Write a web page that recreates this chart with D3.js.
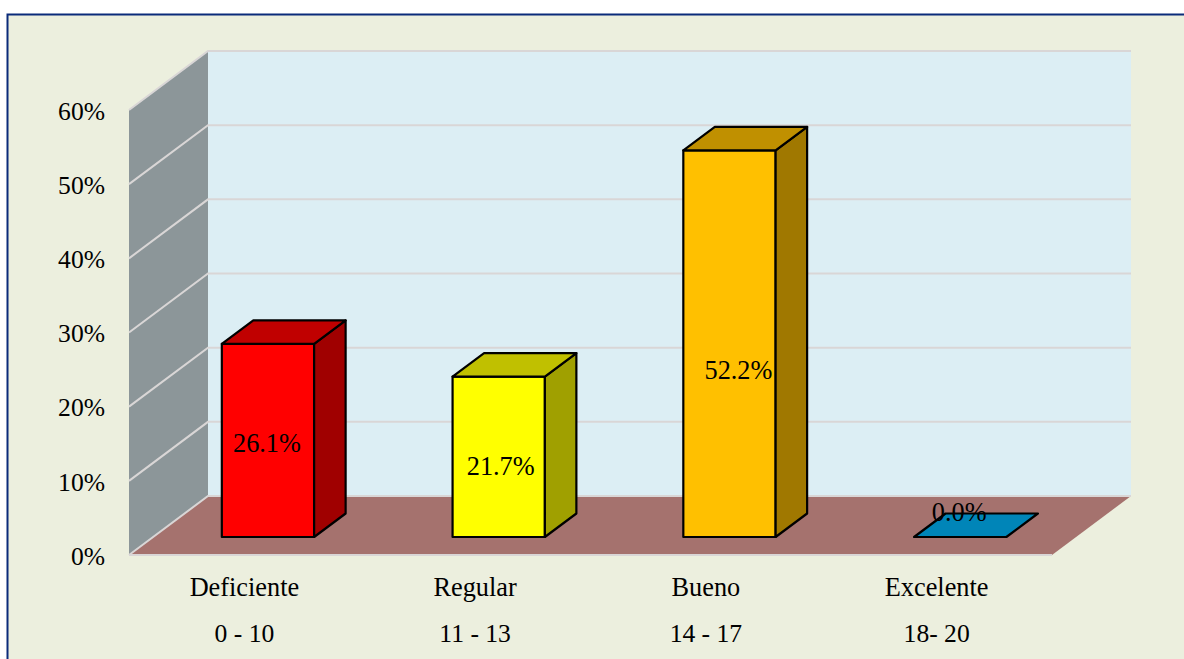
<!DOCTYPE html>
<html>
<head>
<meta charset="utf-8">
<script src="https://cdn.jsdelivr.net/npm/d3@7"></script>
<style>
  html, body { margin: 0; background: #fff; overflow: hidden; }
  text { font-family: "Liberation Serif", "Times New Roman", serif; fill: #000; }
</style>
</head>
<body>
<div id="chart"></div>
<script>
const categories = ['Deficiente', 'Regular', 'Bueno', 'Excelente']
const ranges = ['0 - 10', '11 - 13', '14 - 17', '18- 20']
const values = [26.1, 21.7, 52.2, 0]
const valueLabels = ['26.1%', '21.7%', '52.2%', '0.0%']
const yTicks = [0, 10, 20, 30, 40, 50, 60]
const frontColors = ['#ff0000', '#ffff00', '#ffc000', '#0085b8']
const topColors = ['#c00000', '#c0c000', '#c09000', '#0085b8']
const sideColors = ['#a00000', '#a0a000', '#a07800', '#006488']

let width = 1184,
  height = 659

// floor front edge runs 129-1052, value 0 sits on y 555, 60% on y 110
let x = d3.scaleBand().domain(categories).range([129, 1052]).paddingInner(0).paddingOuter(0)
let y = d3.scaleLinear().domain([0, 60]).range([555, 110])

// wall depth, the whole box and then one bar
let depth = { x: 79, y: -59 }
let barDepth = { x: 31.5, y: -23.5 }
let barInset = { x: 23.6, y: -18 }
let barWidth = x.bandwidth() * 0.4

// labels were placed by hand in the original, they do not sit centred on the bars
let labelShift = [[-1, 12], [2, 18], [9, 35], [-1, -16]]
let fontSize = 26.3
let tickFontSize = 25.6

let svg = d3.select('#chart')
  .append('svg')
  .attr('width', width)
  .attr('height', height)
  .style('display', 'block')

let pts = arr => arr.map(p => p.join(',')).join(' ')

svg.append('rect')
  .attr('x', 7.5)
  .attr('y', 14.5)
  .attr('width', width)
  .attr('height', height)
  .attr('fill', '#ecefde')
  .attr('stroke', '#0a2b7a')
  .attr('stroke-width', 2)

let x0 = x.range()[0],
  x1 = x.range()[1],
  y0 = y(0),
  yMax = y(60)

// back wall
svg.append('rect')
  .attr('x', x0 + depth.x)
  .attr('y', yMax + depth.y)
  .attr('width', x1 - x0)
  .attr('height', y0 - yMax)
  .attr('fill', '#dceef4')

// side wall
svg.append('polygon')
  .attr('points', pts([[x0, y0], [x0, yMax], [x0 + depth.x, yMax + depth.y], [x0 + depth.x, y0 + depth.y]]))
  .attr('fill', '#8c9699')

// floor
svg.append('polygon')
  .attr('points', pts([[x0, y0], [x1, y0], [x1 + depth.x, y0 + depth.y], [x0 + depth.x, y0 + depth.y]]))
  .attr('fill', '#a5726e')

// grid lines go along the side wall and then the back wall
svg.selectAll('.grid')
  .data(yTicks)
  .enter()
  .append('polyline')
  .attr('class', 'grid')
  .attr('points', d => pts([[x0, y(d)], [x0 + depth.x, y(d) + depth.y], [x1 + depth.x, y(d) + depth.y]]))
  .attr('fill', 'none')
  .attr('stroke', '#d9d6d6')
  .attr('stroke-width', 2)

svg.append('line')
  .attr('x1', x0)
  .attr('y1', y0)
  .attr('x2', x1)
  .attr('y2', y0)
  .attr('stroke', '#d9d6d6')
  .attr('stroke-width', 2)

let yAxis = svg.append('g')
  .attr('transform', 'translate(116,1)')
  .call(d3.axisLeft(y).tickValues(yTicks).tickSize(0).tickPadding(11).tickFormat(d => d + '%'))
yAxis.select('.domain').remove()
yAxis.selectAll('text')
  .attr('font-size', tickFontSize)
  .style('font-family', '"Liberation Serif", serif')

let bottomAxis = d3.axisBottom(x).tickSize(0).tickPadding(0)

let xAxis = svg.append('g')
  .attr('transform', 'translate(0,' + y0 + ')')
  .call(bottomAxis)
xAxis.select('.domain').remove()
xAxis.selectAll('text')
  .attr('font-size', fontSize)
  .attr('dy', null)
  .attr('y', 41)
  .style('font-family', '"Liberation Serif", serif')

let rangeAxis = svg.append('g')
  .attr('transform', 'translate(0,' + y0 + ')')
  .call(bottomAxis.tickFormat((d, i) => ranges[i]))
rangeAxis.select('.domain').remove()
rangeAxis.selectAll('text')
  .attr('font-size', tickFontSize)
  .attr('dy', null)
  .attr('y', 87)
  .style('font-family', '"Liberation Serif", serif')

let bars = svg.selectAll('.bar')
  .data(values)
  .enter()
  .append('g')
  .attr('class', 'bar')

let left = (d, i) => x(categories[i]) + (x.bandwidth() - barWidth) / 2 + barInset.x
let base = () => y(0) + barInset.y
let top_ = d => y(d) + barInset.y + 0.5

bars.each(function (d, i) {
  let g = d3.select(this),
    l = left(d, i),
    r = l + barWidth,
    b = base(),
    t = d > 0 ? top_(d) : b

  if (d > 0) {
    g.append('polygon')
      .attr('points', pts([[l, b], [r, b], [r, t], [l, t]]))
      .attr('fill', frontColors[i])
    g.append('polygon')
      .attr('points', pts([[r, b], [r + barDepth.x, b + barDepth.y], [r + barDepth.x, t + barDepth.y], [r, t]]))
      .attr('fill', sideColors[i])
  }
  g.append('polygon')
    .attr('points', pts([[l, t], [r, t], [r + barDepth.x, t + barDepth.y], [l + barDepth.x, t + barDepth.y]]))
    .attr('fill', topColors[i])

  g.selectAll('polygon')
    .attr('stroke', '#000')
    .attr('stroke-width', 2.2)
    .attr('stroke-linejoin', 'round')
})

svg.selectAll('.value')
  .data(values)
  .enter()
  .append('text')
  .attr('class', 'value')
  .attr('x', (d, i) => left(d, i) + barWidth / 2 + labelShift[i][0])
  .attr('y', (d, i) => (base() + top_(d)) / 2 + labelShift[i][1])
  .attr('text-anchor', 'middle')
  .attr('font-size', fontSize)
  .text((d, i) => valueLabels[i])
</script>
</body>
</html>
